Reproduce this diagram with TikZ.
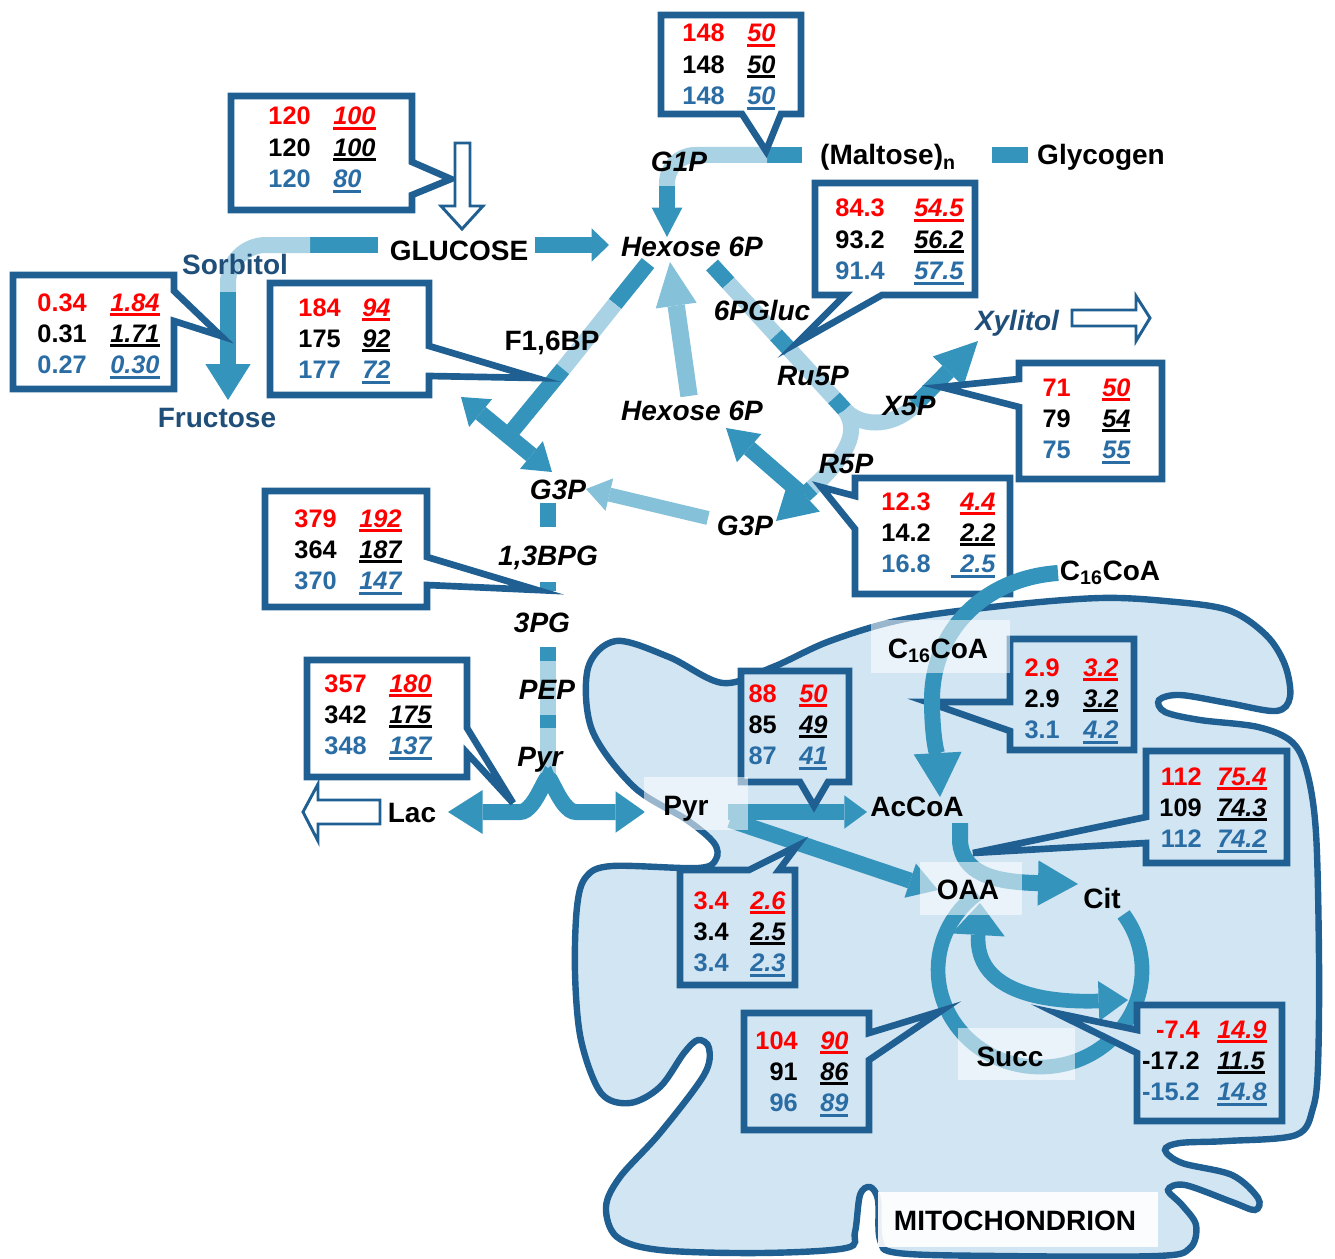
\documentclass[tikz,border=0pt]{standalone}
\usepackage{fontspec}
\setmainfont{Liberation Sans}
\usetikzlibrary{arrows.meta}

\definecolor{boxblue}{HTML}{1F5F92}
\definecolor{flowdark}{HTML}{3594BC}
\definecolor{flowlight}{HTML}{A9D3E5}
\definecolor{medblue}{HTML}{86C1DA}
\definecolor{mitofill}{HTML}{D2E5F3}
\definecolor{numblue}{HTML}{2A6CA4}
\definecolor{labelblue}{HTML}{1F4E79}

% underlined value (thick rule in the text colour)
\newcommand\unum[1]{\setbox0=\hbox{#1}\rlap{\rule[-3.8pt]{\wd0}{2.2pt}}\box0}
\newcommand\ulext{\llap{\rule[-3.8pt]{7pt}{2.2pt}}}
% three rows of values: name, right edge col 1, left edge col 2, first baseline, list
\newcommand\boxvals[5]{%
  \foreach \va/\vb [count=\k] in {#5}{%
    \pgfmathsetmacro\rowy{#4+31.3*(\k-1)}%
    \ifcase\k\or\def\rowcol{red}\or\def\rowcol{black}\or\def\rowcol{numblue}\fi
    \node[num, text=\rowcol, anchor=base east] (#1a\k) at (#2,\rowy) {\va};
    \node[inum, text=\rowcol, anchor=base west] (#1b\k) at (#3,\rowy) {\unum{\vb}};
  }}

\begin{document}
\begin{tikzpicture}[x=0.75pt, y=-0.75pt,
    lbl/.style={inner sep=0pt, anchor=base, font=\fontsize{21}{24}\selectfont\bfseries},
    ilbl/.style={lbl, font=\fontsize{21}{24}\selectfont\bfseries\itshape},
    num/.style={inner sep=0pt, font=\fontsize{19}{22}\selectfont\bfseries},
    inum/.style={num, font=\fontsize{19}{22}\selectfont\bfseries\itshape},
    flow/.style={draw=flowdark, line width=12pt},
    flowlt/.style={draw=flowlight, line width=12pt},
    flowmed/.style={draw=medblue, line width=12pt},
    callout/.style={draw=boxblue, line width=5pt, fill=white, line join=miter},
    calloutin/.style={callout, fill=mitofill},
    hollow/.style={draw=boxblue, line width=2.2pt, fill=white, line join=miter},
    glow/.style={fill=white, fill opacity=0.55, draw=none}]

    \useasboundingbox (0,0) rectangle (1335,1259);

    % ---------------- mitochondrion ----------------
    \draw[boxblue, line width=4.8pt, fill=mitofill] plot[smooth cycle, tension=0.55] coordinates {
        (773,667) (830,641) (905,619) (1010,605) (1100,598) (1165,601) (1228,610) (1266,635)
        (1285,665) (1290,697) (1276,711) (1228,703) (1180,695) (1159,700) (1165,712) (1200,720)
        (1258,727) (1292,742) (1307,772) (1316,833) (1319,960) (1318,1065) (1313,1108) (1296,1135)
        (1227,1141) (1180,1143) (1165,1150) (1182,1163) (1232,1175) (1258,1198) (1255,1210)
        (1232,1202) (1185,1185) (1168,1190) (1182,1205) (1196,1225) (1190,1248) (1157,1256)
        (1000,1256) (898,1253) (880,1240) (878,1200) (870,1187) (860,1195) (855,1232) (846,1248)
        (760,1253) (660,1250) (617,1237) (606,1207) (620,1177) (660,1133) (704,1075) (709,1048)
        (698,1040) (684,1053) (660,1087) (630,1103) (601,1093) (581,1040) (575,973) (577,907)
        (586,877) (612,866) (698,868) (716,859) (714,843) (687,820) (634,787) (592,730)
        (588,668) (616,641) (669,657) (723,683)};

    % ---------------- glycogen / G1P ----------------
    \draw[flow] (992,155) -- (1028,155);
    \draw[flow] (802,155) -- (767,155);
    \draw[flowlt] (767,155) -- (695,155) arc[start angle=-90, end angle=-180, radius=28] -- (667,186);
    \draw[flow, -{Triangle[width=23pt, length=22pt, line width=0pt]}] (667,186) -- (667,237);

    % ---------------- glucose, sorbitol, fructose ----------------
    \draw[flow, -{Triangle[width=25pt, length=13pt, line width=0pt]}] (535,245) -- (609,245);
    \draw[flow] (378,245) -- (310,245);
    \draw[flowlt] (310,245) -- (266,245) arc[start angle=-90, end angle=-180, radius=38] -- (228,292);
    \draw[flow, -{Triangle[width=34pt, length=27pt, line width=0pt]}] (228,292) -- (228,400);

    % ---------------- glycolysis (upper part) ----------------
    \draw[flow] (648,263) -- (615,304);
    \draw[flowlt] (615,304) -- (563,369);
    \draw[flow] (563,369) -- (508,436);
    \draw[flow, {Triangle[width=27pt, length=19pt, line width=0pt]}-{Triangle[width=27pt, length=20pt, line width=0pt]}]
        (461,397) -- (552,472);
    \draw[flowmed, line width=13pt, -{Triangle[width=31pt, length=33pt, line width=0pt]}] (689,396) -- (670,262);

    % ---------------- pentose phosphate ----------------
    \draw[flow] (712,265) -- (728.5,283);
    \draw[flowlt] (728.5,283) -- (776,335);
    \draw[flow] (776,335) -- (790,350);
    \draw[flowlt] (790,350) -- (834,398);
    \draw[flow] (834,398) -- (845,410);
    \draw[flowlt] (845,410) .. controls (858,425) and (890,430) .. (915,405);
    \draw[flow, -{Triangle[width=32pt, length=32pt, line width=0pt]}] (915,405) -- (978,341);
    \draw[flowlt] (845,410) .. controls (860,432) and (847,456) .. (812,488);
    \draw[flow, -{Triangle[width=34pt, length=29pt, line width=0pt]}] (812,488) -- (776,521);
    \draw[flow, -{Triangle[width=28pt, length=23pt, line width=0pt]}] (803,495) -- (726,428);
    \draw[flowmed, line width=10.5pt, -{Triangle[width=25pt, length=18pt, line width=0pt]}] (708,518) -- (586,489);

    % ---------------- glycolysis (lower part) ----------------
    \draw[flow] (548,503) -- (548,527);
    \draw[flow] (548,582) -- (548,591);
    \draw[flow] (548,647) -- (548,661);
    \draw[flowlt] (548,661) -- (548,715);
    \draw[flow] (548,715) -- (548,728);
    \draw[flowlt] (548,728) -- (548,783);
    \draw[flow, -{Triangle[width=33pt, length=26pt, line width=0pt]}] (548,782) to[out=90, in=0] (520,812) -- (448,812);
    \draw[flow, -{Triangle[width=31pt, length=22pt, line width=0pt]}] (548,782) to[out=90, in=180] (576,812) -- (645,812);

    % ---------------- mitochondrial fluxes ----------------
    \draw[flow, -{Triangle[width=25pt, length=17pt, line width=0pt]}] (728,812) -- (867,812);
    \draw[flow, -{Triangle[width=27pt, length=22pt, line width=0pt]}] (730,820) -- (938,890);
    \draw[flow, -{Triangle[width=34pt, length=30pt, line width=0pt]}] (960,823) -- (960,842)
        .. controls (963,872) and (990,882) .. (1078,884);
    \draw[flow, line width=11pt] (1123.6,914.4) arc[start angle=-35, end angle=232, x radius=102, y radius=97];
    \draw[flow, line width=11pt, {Triangle[width=40pt, length=24pt, line width=0pt]}-{Triangle[width=30pt, length=22pt, line width=0pt]}]
        (980,903) .. controls (975,990) and (1040,1003) .. (1128,1000);

    % ---------------- callouts ----------------
    \draw[callout] (231,96) -- (412,96) -- (412,162) -- (451,179) -- (412,195) -- (412,210) -- (231,210) -- cycle;
    \draw[callout] (13,275) -- (174,275) -- (174,291) -- (221,336) -- (174,321) -- (174,389) -- (13,389) -- cycle;
    \draw[callout] (270,283) -- (429,283) -- (429,346) -- (536,378) -- (429,376) -- (429,395) -- (270,395) -- cycle;
    \draw[callout] (661,15) -- (801,15) -- (801,114) -- (781,114) -- (766,151) -- (742,114) -- (661,114) -- cycle;
    \draw[callout] (815,183) -- (975,183) -- (975,295) -- (882,295) -- (797,343) -- (845,295) -- (815,295) -- cycle;
    \draw[callout] (1019,363) -- (1162,363) -- (1162,479) -- (1019,479) -- (1019,407) -- (941,387) -- (1019,379) -- cycle;
    \draw[callout] (855,478) -- (1010,478) -- (1010,594) -- (855,594) -- (855,529) -- (821,487) -- (855,496) -- cycle;
    \draw[callout] (265,491) -- (427,491) -- (427,557) -- (537,590) -- (427,585) -- (427,607) -- (265,607) -- cycle;
    \draw[callout] (307,660) -- (467,660) -- (467,728) -- (513,803) -- (467,753) -- (467,777) -- (307,777) -- cycle;
    \draw[calloutin] (741,671) -- (849,671) -- (849,782) -- (828,782) -- (814,806) -- (800,782) -- (741,782) -- cycle;
    \draw[calloutin] (1010,639) -- (1134,639) -- (1134,750) -- (1010,750) -- (1010,731) -- (927,702) -- (1010,702) -- cycle;
    \draw[calloutin] (1146,751) -- (1287,751) -- (1287,863) -- (1146,863) -- (1146,843) -- (973,853) -- (1146,817) -- cycle;
    \draw[calloutin] (680,870) -- (749,870) -- (797,846) -- (779,870) -- (795,870) -- (795,985) -- (680,985) -- cycle;
    \draw[calloutin] (744,1013) -- (869,1013) -- (869,1033) -- (941,1011) -- (869,1060) -- (869,1130) -- (744,1130) -- cycle;
    \draw[calloutin] (1137,1005) -- (1282,1005) -- (1282,1121) -- (1137,1121) -- (1137,1053) -- (1056,1013) -- (1137,1030) -- cycle;

    % fatty acid entry, drawn over the R5P box corner
    \draw[flow, -{Triangle[width=36pt, length=33pt, line width=0pt]}] (1058,573)
        .. controls (985,578) and (932,630) .. (932,700) .. controls (932,740) and (938,760) .. (940,797);

    % light patches behind the mitochondrial labels
    \fill[glow] (644,777) rectangle (748,830);
    \fill[glow] (871,620) rectangle (1010,673);
    \fill[glow] (920,862) rectangle (1022,915);
    \fill[glow] (958,1028) rectangle (1075,1080);
    \fill[white, opacity=0.9] (878,1192) rectangle (1158,1247);

    % open arrows
    \draw[hollow] (455,143) -- (470,143) -- (470,206) -- (483,206) -- (462,229) -- (441,206) -- (455,206) -- cycle;
    \draw[hollow] (380,800) -- (380,824) -- (318,824) -- (318,841) -- (303,812) -- (318,784) -- (318,800) -- cycle;
    \draw[hollow] (1072,310) -- (1136,310) -- (1136,296) -- (1150,318) -- (1136,341) -- (1136,326) -- (1072,326) -- cycle;

    % ---------------- metabolite labels ----------------
    \node[lbl] (glucose) at (459,260) {GLUCOSE};
    \node[lbl, text=labelblue] (sorbitol) at (235,274) {Sorbitol};
    \node[lbl, text=labelblue] (fructose) at (217,427) {Fructose};
    \node[ilbl] (hexA) at (692,257) {Hexose 6P};
    \node[ilbl] (gonep) at (679,172) {G1P};
    \node[lbl] (maltose) at (888,165) {(Maltose)\textsubscript{n}};
    \node[lbl] (glycogen) at (1101,165) {Glycogen};
    \node[lbl] (fbp) at (552,350) {F1,6BP};
    \node[ilbl] (pgluc) at (762,320) {6PGluc};
    \node[ilbl, text=labelblue] (xylitol) at (1017,330) {Xylitol};
    \node[ilbl] (ruvp) at (813,385) {Ru5P};
    \node[ilbl] (xvp) at (909,415) {X5P};
    \node[ilbl] (hexB) at (692,420) {Hexose 6P};
    \node[ilbl] (rvp) at (846,473) {R5P};
    \node[ilbl] (gtpA) at (558,499) {G3P};
    \node[ilbl] (gtpB) at (745,535) {G3P};
    \node[ilbl] (bpg) at (548,565) {1,3BPG};
    \node[ilbl] (tpg) at (542,632) {3PG};
    \node[ilbl] (pep) at (547,699) {PEP};
    \node[ilbl] (pyrA) at (540,766) {Pyr};
    \node[lbl] (lac) at (412,822) {Lac};
    \node[lbl] (pyrB) at (686,815) {Pyr};
    \node[lbl] (accoa) at (917,816) {AcCoA};
    \node[lbl] (cxviA) at (1110,580) {C\textsubscript{16}CoA};
    \node[lbl] (cxviB) at (938,658) {C\textsubscript{16}CoA};
    \node[lbl] (oaa) at (968,899) {OAA};
    \node[lbl] (cit) at (1102,908) {Cit};
    \node[lbl] (succ) at (1010,1066) {Succ};
    \node[lbl] (mito) at (1015,1230) {MITOCHONDRION};

    % ---------------- flux values ----------------
    \boxvals{glc}{311}{333}{125}{120/100, 120/100, 120/80}
    \boxvals{sor}{87}{110}{311}{0.34/1.84, 0.31/1.71, 0.27/0.30}
    \boxvals{pfk}{341}{362}{316}{184/94, 175/92, 177/72}
    \boxvals{gly}{725}{747}{42}{148/50, 148/50, 148/50}
    \boxvals{ppp}{885}{914}{217}{84.3/54.5, 93.2/56.2, 91.4/57.5}
    \boxvals{xyl}{1071}{1102}{396}{71/50, 79/54, 75/55}
    \boxvals{rib}{931}{960}{510}{12.3/4.4, 14.2/2.2, 16.8/\ulext2.5}
    \boxvals{gap}{337}{359}{527}{379/192, 364/187, 370/147}
    \boxvals{ldh}{367}{389}{692}{357/180, 342/175, 348/137}
    \boxvals{pdh}{777}{799}{702}{88/50, 85/49, 87/41}
    \boxvals{fao}{1060}{1083}{676}{2.9/3.2, 2.9/3.2, 3.1/4.2}
    \boxvals{cs}{1202}{1217}{785}{112/75.4, 109/74.3, 112/74.2}
    \boxvals{pc}{729}{750}{909}{3.4/2.6, 3.4/2.5, 3.4/2.3}
    \boxvals{tca}{798}{820}{1049}{104/90, 91/86, 96/89}
    \boxvals{ana}{1200}{1217}{1038}{-7.4/14.9, -17.2/11.5, -15.2/14.8}

\end{tikzpicture}
\end{document}
